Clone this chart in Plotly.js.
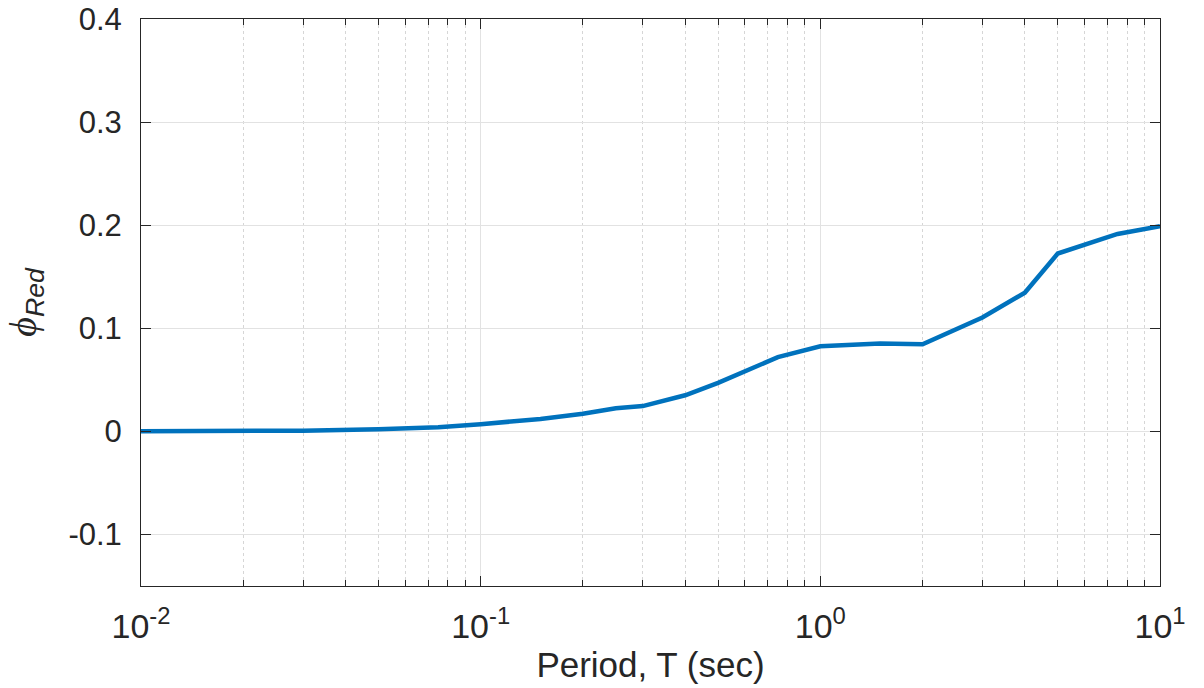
<!DOCTYPE html>
<html>
<head>
<meta charset="utf-8">
<script src="https://cdn.plot.ly/plotly-3.0.1.min.js"></script>
<style>html,body{margin:0;padding:0;background:#fff;}</style>
</head>
<body>
<div id="chart" style="width:1204px;height:688px;"></div>
<script>
const period = [0.01, 0.02, 0.03, 0.05, 0.075, 0.1, 0.15, 0.2, 0.25, 0.3, 0.4, 0.5, 0.75, 1, 1.5, 2, 3, 4, 5, 7.5, 10];
const phiRed = [0, 0.0003, 0.0007, 0.002, 0.004, 0.007, 0.012, 0.017, 0.0225, 0.0245, 0.035, 0.047, 0.072, 0.0825, 0.0852, 0.0845, 0.1105, 0.1345, 0.1725, 0.1915, 0.199];
const xTickVals = [0.01, 0.1, 1, 10];
const xTickText = ['10<sup>-2</sup>', '10<sup>-1</sup>', '10<sup>0</sup>', '10<sup>1</sup>'];
const xMinorVals = [0.02, 0.03, 0.04, 0.05, 0.06, 0.07, 0.08, 0.09,
                    0.2, 0.3, 0.4, 0.5, 0.6, 0.7, 0.8, 0.9,
                    2, 3, 4, 5, 6, 7, 8, 9];
const yTickVals = [-0.1, 0, 0.1, 0.2, 0.3, 0.4];
const yTickText = ['-0.1', '0', '0.1', '0.2', '0.3', '0.4'];

const font = 'Liberation Sans, Arial, Helvetica, sans-serif';
const ink = '#262626';
Plotly.newPlot('chart', [{
  x: period, y: phiRed, type: 'scatter', mode: 'lines',
  line: {color: '#0072BD', width: 4.5}
}], {
  width: 1204, height: 688,
  margin: {l: 141, r: 44, t: 19, b: 102},
  paper_bgcolor: '#fff', plot_bgcolor: '#fff',
  showlegend: false,
  font: {family: font, size: 31, color: ink},
  xaxis: {
    type: 'log', range: [-2, 1],
    tickvals: xTickVals, ticktext: xTickText,
    ticks: 'inside', ticklen: 10, tickcolor: ink, tickwidth: 1,
    showline: true, linecolor: ink, linewidth: 1, mirror: 'ticks',
    showgrid: true, gridcolor: '#e2e2e2', gridwidth: 1,
    zeroline: false,
    minor: {tickvals: xMinorVals, ticks: 'inside', ticklen: 6, tickcolor: ink, showgrid: true, gridcolor: '#d6d6d6', griddash: 'dot', gridwidth: 1},
    tickfont: {size: 34, family: font, color: ink},
    ticklabelstandoff: 10,
    title: {text: 'Period, T (sec)', font: {size: 35, family: font, color: ink}, standoff: 8}
  },
  yaxis: {
    range: [-0.15, 0.4],
    tickvals: yTickVals, ticktext: yTickText,
    ticks: 'inside', ticklen: 10, tickcolor: ink, tickwidth: 1,
    showline: true, linecolor: ink, linewidth: 1, mirror: 'ticks',
    showgrid: true, gridcolor: '#e2e2e2', gridwidth: 1,
    zeroline: false,
    tickfont: {size: 31, family: font, color: ink},
    ticklabelstandoff: 12,
    title: {text: '<span style="font-family:Liberation Serif, Times New Roman, serif;font-style:italic">ϕ</span><sub><span style="font-style:italic">Red</span></sub>', font: {size: 38, family: font, color: ink}, standoff: 20}
  }
}, {displayModeBar: false, staticPlot: true});
</script>
</body>
</html>
